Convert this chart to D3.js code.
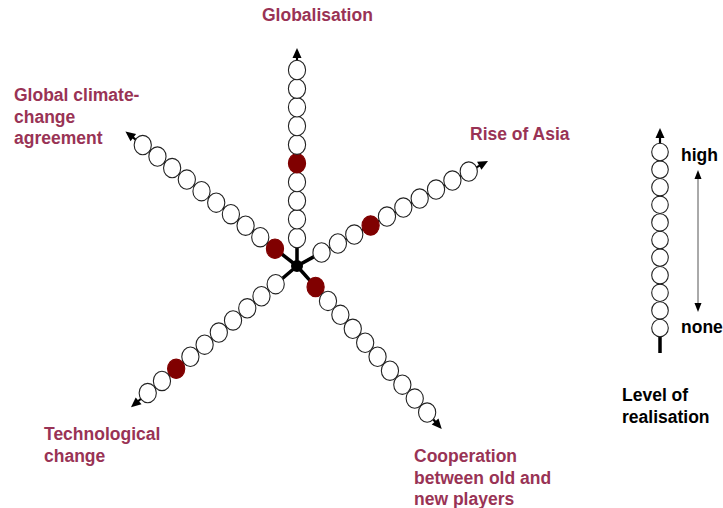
<!DOCTYPE html>
<meta charset="utf-8">
<script src="https://d3js.org/d3.v7.min.js"></script>
<style>
  body { margin: 0; background: #fff; }
  text { font-family: Arial, "Liberation Sans", sans-serif; font-weight: bold; font-size: 17.5px; }
</style>
<svg id="chart" width="723" height="508"></svg>
<script>
  // data: scenario axes and their level of realisation (1 = none .. 10 = high)
  const axisNames = ["Globalisation", "Rise of Asia", "Cooperation between old and new players",
                     "Technological change", "Global climate-change agreement"];
  const axisValues = [5, 4, 1, 8, 1];
  const levels = [1, 2, 3, 4, 5, 6, 7, 8, 9, 10];
  const legendLevels = [0, 1, 2, 3, 4, 5, 6, 7, 8, 9, 10];

  // layout
  const axisAngles = [90, 28.8, -48.4, -139.6, 141.9]; // degrees, counter-clockwise from east
  const labelLines = [["Globalisation"], ["Rise of Asia"], ["Cooperation", "between old and", "new players"],
                      ["Technological", "change"], ["Global climate-", "change", "agreement"]];
  const labelPos = [[262, 21], [470, 140], [414, 462], [44, 440], [14, 101]];
  const center = [297, 266];
  const labelColor = "#993355";
  const red = "#800000";

  const svg = d3.select("#chart");
  const r = d3.scaleLinear().domain([1, 10]).range([28, 196]);
  const tipR = 218;

  function pt(angle, rad) {
    const a = angle * Math.PI / 180;
    return [center[0] + rad * Math.cos(a), center[1] - rad * Math.sin(a)];
  }

  function arrowHead(g, tip, dirX, dirY, len, half) {
    const bx = tip[0] - dirX * len, by = tip[1] - dirY * len;
    g.append("path")
      .attr("d", d3.line()([tip, [bx - dirY * half, by + dirX * half], [bx + dirY * half, by - dirX * half]]) + "Z")
      .attr("fill", "#000");
  }

  const axes = svg.append("g");
  axisAngles.forEach((ang, i) => {
    const g = axes.append("g");
    const a = ang * Math.PI / 180;
    const dx = Math.cos(a), dy = -Math.sin(a);
    const start = pt(ang, 0), end = pt(ang, tipR - 7), tip = pt(ang, tipR);
    // axis line
    g.append("line")
      .attr("x1", start[0]).attr("y1", start[1])
      .attr("x2", end[0]).attr("y2", end[1])
      .attr("stroke", "#000").attr("stroke-width", 2.2);
    // thick stub from centre
    const stub = pt(ang, r(1) - 8);
    g.append("line")
      .attr("x1", start[0]).attr("y1", start[1])
      .attr("x2", stub[0]).attr("y2", stub[1])
      .attr("stroke", "#000").attr("stroke-width", 3.5);
    arrowHead(g, tip, dx, dy, 10, 4.5);
    // level beads
    g.selectAll("ellipse")
      .data(levels)
      .join("ellipse")
      .attr("cx", d => pt(ang, r(d))[0])
      .attr("cy", d => pt(ang, r(d))[1])
      .attr("rx", 8.6).attr("ry", 9.7)
      .attr("fill", d => d === axisValues[i] ? red : "#fff")
      .attr("stroke", d => d === axisValues[i] ? red : "#222")
      .attr("stroke-width", 1.1);
    // label
    g.append("text")
      .attr("fill", labelColor)
      .selectAll("tspan")
      .data(labelLines[i])
      .join("tspan")
      .attr("x", labelPos[i][0])
      .attr("y", (d, j) => labelPos[i][1] + j * 21.5)
      .text(d => d);
  });

  svg.append("circle")
    .attr("cx", center[0]).attr("cy", center[1])
    .attr("r", 6).attr("fill", "#000");

  // legend
  const lx = 660;
  const ly = d3.scaleLinear().domain([0, 10]).range([328, 152]);
  const leg = svg.append("g");
  leg.append("line")
    .attr("x1", lx).attr("x2", lx)
    .attr("y1", 337).attr("y2", 353)
    .attr("stroke", "#000").attr("stroke-width", 3.5);
  leg.append("line")
    .attr("x1", lx).attr("x2", lx)
    .attr("y1", 337).attr("y2", 137)
    .attr("stroke", "#000").attr("stroke-width", 2.2);
  arrowHead(leg, [lx, 128], 0, -1, 10, 4.5);
  leg.selectAll("ellipse")
    .data(legendLevels)
    .join("ellipse")
    .attr("cx", lx)
    .attr("cy", d => ly(d))
    .attr("rx", 8.3).attr("ry", 8.7)
    .attr("fill", "#fff")
    .attr("stroke", "#222")
    .attr("stroke-width", 1.1);

  // range arrow
  leg.append("line")
    .attr("x1", 698).attr("x2", 698)
    .attr("y1", 178).attr("y2", 304)
    .attr("stroke", "#555").attr("stroke-width", 1);
  arrowHead(leg, [698, 170], 0, -1, 9, 3.5);
  arrowHead(leg, [698, 312], 0, 1, 9, 3.5);

  leg.append("text").attr("x", 681).attr("y", 161).attr("fill", "#000").text("high");
  leg.append("text").attr("x", 681).attr("y", 333).attr("fill", "#000").text("none");
  leg.append("text").attr("fill", "#000")
    .selectAll("tspan")
    .data(["Level of", "realisation"])
    .join("tspan")
    .attr("x", 622)
    .attr("y", (d, j) => 401 + j * 21.5)
    .text(d => d);
</script>
